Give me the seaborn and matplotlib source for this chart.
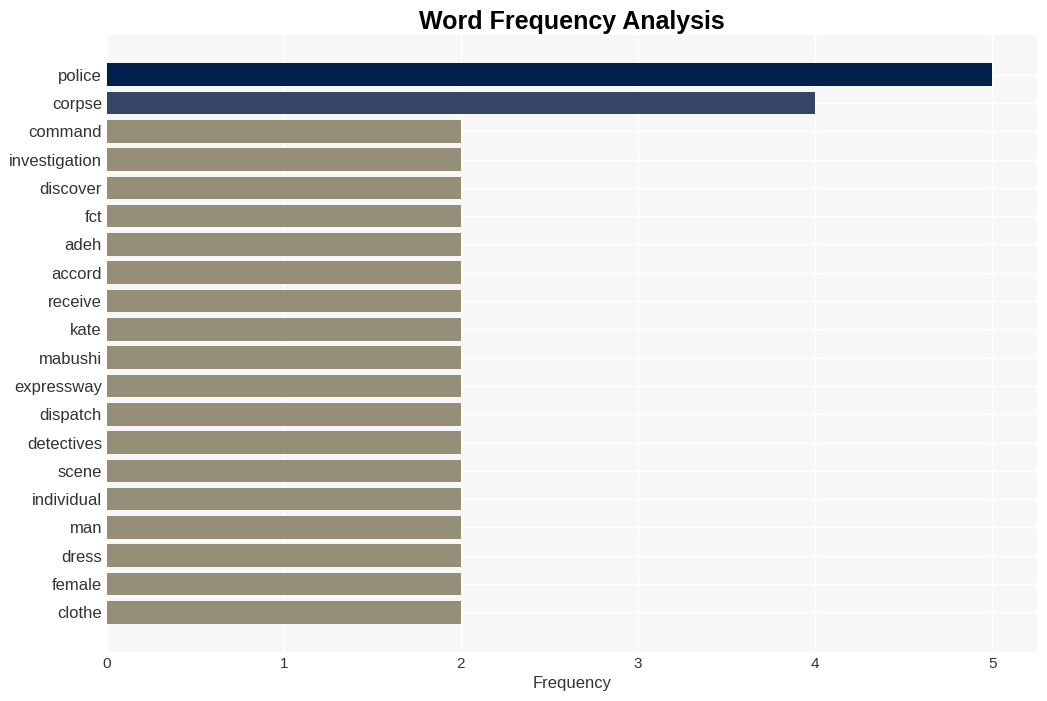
import matplotlib
matplotlib.use("Agg")
import matplotlib.pyplot as plt
import seaborn as sns
import pandas as pd

words = ["police", "corpse", "command", "investigation", "discover", "fct", "adeh",
         "accord", "receive", "kate", "mabushi", "expressway", "dispatch", "detectives",
         "scene", "individual", "man", "dress", "female", "clothe"]
counts = [5, 4, 2, 2, 2, 2, 2, 2, 2, 2, 2, 2, 2, 2, 2, 2, 2, 2, 2, 2]
bar_colors = ["#00204d", "#35456a"] + ["#958f78"] * 18

df = pd.DataFrame({"word": words, "count": counts})

sns.set_style("whitegrid")
plt.rcParams['font.family'] = ['Liberation Sans', 'DejaVu Sans']

fig, ax = plt.subplots(figsize=(10.47, 7.01), dpi=100)
ax.set_facecolor("#f7f7f7")
sns.barplot(data=df, x="count", y="word", hue="word", palette=bar_colors,
            legend=False, width=0.8, ax=ax, saturation=1, linewidth=0)
# default-like margins around the categories
ax.set_ylim(len(words) - 1 + 1.4, -1.4)
ax.set_xlim(0, 5.25)
ax.grid(True, color="white", linewidth=1)
ax.set_axisbelow(True)
for s in ax.spines.values():
    s.set_visible(False)
ax.tick_params(axis="both", length=0, colors="#333333", labelsize=11)
ax.tick_params(axis="y", labelsize=12)
ax.set_ylabel("")
ax.set_xlabel("Frequency", fontsize=12, color="#333333")
ax.set_title("Word Frequency Analysis", fontsize=18, fontweight="bold",
             color="black", pad=4)

fig.subplots_adjust(left=0.102, right=0.990, top=0.950, bottom=0.070)
fig.savefig("out.png", dpi=100)
